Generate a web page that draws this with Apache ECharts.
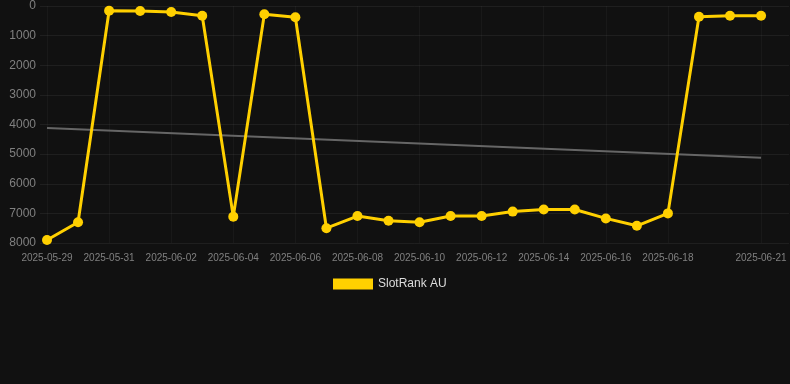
<!DOCTYPE html>
<html>
<head>
<meta charset="utf-8">
<script src="https://cdn.jsdelivr.net/npm/echarts@6/dist/echarts.min.js"></script>
<style>
  html, body { margin: 0; padding: 0; background: #111111; }
  #chart { width: 790px; height: 384px; }
</style>
</head>
<body>
<div id="chart"></div>
<script>
  // daily SlotRank AU positions
  var dates = [
    '2025-05-29', '2025-05-30', '2025-05-31', '2025-06-01', '2025-06-02', '2025-06-03',
    '2025-06-04', '2025-06-05', '2025-06-06', '2025-06-07', '2025-06-08', '2025-06-09',
    '2025-06-10', '2025-06-11', '2025-06-12', '2025-06-13', '2025-06-14', '2025-06-15',
    '2025-06-16', '2025-06-17', '2025-06-18', '2025-06-19', '2025-06-20', '2025-06-21'
  ];
  var ranks = [
    7900, 7300, 160, 170, 200, 330,
    7110, 280, 380, 7500, 7090, 7250,
    7300, 7090, 7090, 6940, 6870, 6870,
    7170, 7420, 7000, 360, 330, 330
  ];
  // trend line end points
  var trendDates = ['2025-05-29', '2025-06-21'];
  var trendValues = [4120, 5120];
  // x axis labels
  var tickDates = [
    '2025-05-29', '2025-05-31', '2025-06-02', '2025-06-04', '2025-06-06', '2025-06-08',
    '2025-06-10', '2025-06-12', '2025-06-14', '2025-06-16', '2025-06-18', '2025-06-21'
  ];

  var DAY = 24 * 3600 * 1000;
  function ts(s) {
    var p = s.split('-');
    return Date.UTC(+p[0], +p[1] - 1, +p[2]);
  }
  function pad(n) { return n < 10 ? '0' + n : '' + n; }

  var myChart = echarts.init(document.getElementById('chart'));

  myChart.setOption({
    backgroundColor: '#111111',
    animation: false,
    grid: {
      left: 40,
      right: 1,
      top: 6,
      bottom: 141
    },
    legend: {
      data: ['SlotRank AU'],
      top: 273,
      left: 328,
      itemWidth: 40,
      itemHeight: 11,
      itemGap: 10,
      icon: 'rect',
      textStyle: {
        color: '#dddddd',
        fontSize: 12,
        fontFamily: 'Arial, Liberation Sans, sans-serif'
      }
    },
    xAxis: {
      type: 'value',
      min: ts(dates[0]) - 0.2255 * DAY,
      max: ts(dates[dates.length - 1]) + 0.9 * DAY,
      axisLine: { show: false },
      axisTick: { show: false, customValues: tickDates.map(ts) },
      splitLine: {
        show: true,
        lineStyle: { color: 'rgba(255,255,255,0.035)', width: 1 }
      },
      axisLabel: {
        customValues: tickDates.map(ts),
        color: '#808080',
        fontSize: 10,
        margin: 10,
        fontFamily: 'Arial, Liberation Sans, sans-serif',
        formatter: function (v) {
          var d = new Date(v);
          return d.getUTCFullYear() + '-' + pad(d.getUTCMonth() + 1) + '-' + pad(d.getUTCDate());
        }
      }
    },
    yAxis: {
      type: 'value',
      inverse: true,
      min: 0,
      max: 8000,
      interval: 1000,
      axisLine: { show: false },
      axisTick: { show: false },
      splitLine: {
        lineStyle: { color: 'rgba(255,255,255,0.06)', width: 1 }
      },
      axisLabel: {
        color: '#808080',
        fontSize: 12,
        margin: 4,
        fontFamily: 'Arial, Liberation Sans, sans-serif',
        formatter: function (v) { return '' + v; }
      }
    },
    series: [
      {
        name: 'SlotRank AU',
        type: 'line',
        symbol: 'circle',
        symbolSize: 10,
        z: 3,
        itemStyle: { color: '#FFD000' },
        lineStyle: { color: '#FFD000', width: 3 },
        data: dates.map(function (d, i) { return [ts(d), ranks[i]]; })
      },
      {
        name: 'trend',
        type: 'line',
        symbol: 'none',
        silent: true,
        z: 2,
        lineStyle: { color: '#666666', width: 2 },
        data: trendDates.map(function (d, i) { return [ts(d), trendValues[i]]; })
      }
    ]
  });
</script>
</body>
</html>
